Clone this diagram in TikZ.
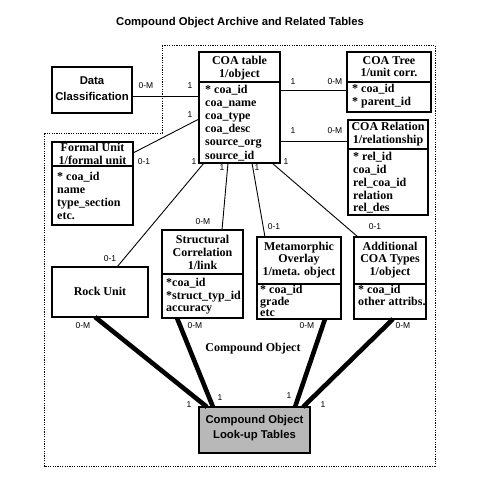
\documentclass[tikz,border=0pt]{standalone}
\usepackage{fontspec}
\setmainfont{Liberation Serif}
\newfontfamily\sansb{Liberation Sans}
\usetikzlibrary{calc}
\definecolor{lookgray}{HTML}{B8B8B8}
\begin{document}
\begin{tikzpicture}[x=1pt,y=-1pt,
  box/.style={draw, line width=1.2pt, inner sep=0pt, outer sep=0pt, anchor=north west},
  sepline/.style={line width=1.2pt},
  hd/.style={font=\fontsize{12}{12}\selectfont\bfseries, anchor=mid, inner sep=0pt},
  bd/.style={font=\fontsize{12}{12}\selectfont\bfseries, anchor=mid west, inner sep=0pt},
  sf/.style={font=\sansb\fontsize{11.3}{11.3}\selectfont\bfseries, anchor=mid, inner sep=0pt},
  lbl/.style={font=\sansb\fontsize{8.5}{8.5}\selectfont, anchor=mid, inner sep=0pt},
  conn/.style={line width=0.9pt},
  thick conn/.style={line width=4.6pt},
  frame/.style={line width=1pt, dash pattern=on 1.2pt off 1.2pt}
]
\useasboundingbox (0,0) rectangle (480,479);

% title
\node[sf] (title) at (240,23) {Compound Object Archive and Related Tables};

% dotted frame
\draw[frame] (162,45) -- (435,45) -- (435,466) -- (44,466) -- (44,133) -- (162,133) -- cycle;

% Data Classification
\node[box, minimum width=80pt, minimum height=46pt] (dc) at (52,67) {};
\node[sf] (dc1) at (92,82) {Data};
\node[sf] (dc2) at (92,98) {Classification};

% COA table
\node[box, minimum width=81pt, minimum height=111pt] (coa) at (199,52) {};
\draw[sepline] (coa.west |- 0,82) -- (coa.east |- 0,82);
\node[hd] (coah1) at (239.5,62) {COA table};
\node[hd] (coah2) at (239.5,75) {1/object};
\node[bd] (coab1) at (205,91) {* coa\_id};
\node[bd] (coab2) at (205,104) {coa\_name};
\node[bd] (coab3) at (205,117) {coa\_type};
\node[bd] (coab4) at (205,130) {coa\_desc};
\node[bd] (coab5) at (205,143.5) {source\_org};
\node[bd] (coab6) at (205,157) {source\_id};

% COA Tree
\node[box, minimum width=84pt, minimum height=60pt] (tree) at (347,52) {};
\draw[sepline] (tree.west |- 0,82) -- (tree.east |- 0,82);
\node[hd] (treeh1) at (389,62) {COA Tree};
\node[hd] (treeh2) at (389,74) {1/unit corr.};
\node[bd] (treeb1) at (352,90) {* coa\_id};
\node[bd] (treeb2) at (352,103) {* parent\_id};

% COA Relation
\node[box, minimum width=80pt, minimum height=95pt] (rel) at (348,120) {};
\draw[sepline] (rel.west |- 0,149) -- (rel.east |- 0,149);
\node[hd] (relh1) at (388,128) {COA Relation};
\node[hd] (relh2) at (388,141) {1/relationship};
\node[bd] (relb1) at (353,158) {* rel\_id};
\node[bd] (relb2) at (353,171) {coa\_id};
\node[bd] (relb3) at (353,184) {rel\_coa\_id};
\node[bd] (relb4) at (353,197) {relation};
\node[bd] (relb5) at (353,209.5) {rel\_des};

% Formal Unit
\node[box, minimum width=81pt, minimum height=83pt] (fu) at (52,142) {};
\draw[sepline] (fu.west |- 0,166) -- (fu.east |- 0,166);
\node[hd] (fuh1) at (92.5,149.5) {Formal Unit};
\node[hd] (fuh2) at (92.5,162) {1/formal unit};
\node[bd] (fub1) at (57,178.5) {* coa\_id};
\node[bd] (fub2) at (57,191) {name};
\node[bd] (fub3) at (57,204) {type\_section};
\node[bd] (fub4) at (57,217) {etc.};

% Rock Unit
\node[box, minimum width=96pt, minimum height=50pt] (rock) at (52,267) {};
\node[hd] (rockt) at (100,293) {Rock Unit};

% Structural Correlation
\node[box, minimum width=81pt, minimum height=88pt] (sc) at (162,230) {};
\draw[sepline] (sc.west |- 0,274) -- (sc.east |- 0,274);
\node[hd] (sch1) at (202.5,241) {Structural};
\node[hd] (sch2) at (202.5,254) {Correlation};
\node[hd] (sch3) at (202.5,267.5) {1/link};
\node[bd] (scb1) at (166,284) {*coa\_id};
\node[bd] (scb2) at (166,297) {*struct\_typ\_id};
\node[bd] (scb3) at (166,309.5) {accuracy};

% Metamorphic Overlay
\node[box, minimum width=84pt, minimum height=82pt] (mo) at (257,237) {};
\draw[sepline] (mo.west |- 0,284) -- (mo.east |- 0,284);
\node[hd] (moh1) at (299,248) {Metamorphic};
\node[hd] (moh2) at (299,260) {Overlay};
\node[hd] (moh3) at (299,273) {1/meta. object};
\node[bd] (mob1) at (260,291.5) {* coa\_id};
\node[bd] (mob2) at (260,303) {grade};
\node[bd] (mob3) at (260,314.5) {etc};

% Additional COA Types
\node[box, minimum width=72pt, minimum height=82pt] (add) at (354,237) {};
\draw[sepline] (add.west |- 0,284) -- (add.east |- 0,284);
\node[hd] (addh1) at (390,248) {Additional};
\node[hd] (addh2) at (390,260) {COA Types};
\node[hd] (addh3) at (390,273) {1/object};
\node[bd] (addb1) at (358,291.5) {* coa\_id};
\node[bd] (addb2) at (358,303) {other attribs.};

% Look-up tables
\node[box, fill=lookgray, minimum width=111pt, minimum height=46pt] (look) at (199,407) {};
\node[sf] (look1) at (254.5,421) {Compound Object};
\node[sf] (look2) at (254.5,436) {Look-up Tables};

% Compound Object label
\node[hd] (colabel) at (253,349) {Compound Object};

% thin connectors
\draw[conn] (dc.east |- 0,96) -- (coa.west |- 0,96);
\node[lbl] (l1a) at (146,86) {0-M};
\node[lbl] (l1b) at (190,86) {1};

\draw[conn] (coa.east |- 0,90) -- (tree.west |- 0,90);
\node[lbl] (l2a) at (293,82) {1};
\node[lbl] (l2b) at (335,82) {0-M};

\draw[conn] (coa.east |- 0,141) -- (rel.west |- 0,141);
\node[lbl] (l3a) at (293,131) {1};
\node[lbl] (l3b) at (335,131) {0-M};

\draw[conn] (coa.west |- 0,119) -- (fu.east |- 0,153);
\node[lbl] (l4a) at (190,115) {1};
\node[lbl] (l4b) at (144,162) {0-1};

\draw[conn] (204,0 |- coa.south) -- (117,0 |- rock.north);
\node[lbl] (l5a) at (194,162) {1};
\node[lbl] (l5b) at (110,259) {0-1};

\draw[conn] (228,0 |- coa.south) -- (222,0 |- sc.north);
\node[lbl] (l6a) at (222,168) {1};
\node[lbl] (l6b) at (203,222) {0-M};

\draw[conn] (252,0 |- coa.south) -- (265,0 |- mo.north);
\node[lbl] (l7a) at (257,168) {1};
\node[lbl] (l7b) at (274,227) {0-1};

\draw[conn] (272,0 |- coa.south) -- (358,0 |- add.north);
\node[lbl] (l8a) at (286,162) {1};
\node[lbl] (l8b) at (375,227) {0-1};

% thick connectors
\draw[thick conn] (95,0 |- rock.south) -- (207,0 |- look.north);
\node[lbl] (l9a) at (83,326) {0-M};
\node[lbl] (l9b) at (189,405) {1};

\draw[thick conn] (177,0 |- sc.south) -- (213,0 |- look.north);
\node[lbl] (l10a) at (195,326) {0-M};
\node[lbl] (l10b) at (220,398) {1};

\draw[thick conn] (325,0 |- mo.south) -- (295,0 |- look.north);
\node[lbl] (l11a) at (307,326) {0-M};
\node[lbl] (l11b) at (289,396) {1};

\draw[thick conn] (393,0 |- add.south) -- (303,0 |- look.north);
\node[lbl] (l12a) at (403,326) {0-M};
\node[lbl] (l12b) at (323,405) {1};
\end{tikzpicture}
\end{document}
